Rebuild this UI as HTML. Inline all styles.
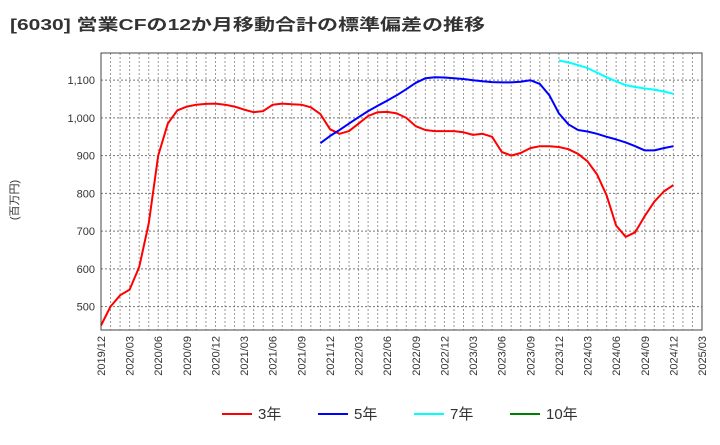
<!DOCTYPE html>
<html><head><meta charset="utf-8"><style>
body{margin:0;background:#fff;font-family:"Liberation Sans","Noto Sans CJK JP",sans-serif}
</style></head><body>
<svg width="720" height="440" xmlns="http://www.w3.org/2000/svg" font-family="Liberation Sans, Noto Sans CJK JP, sans-serif">
<text x="10" y="30" font-size="16" font-weight="bold" fill="#333" textLength="475" lengthAdjust="spacingAndGlyphs">[6030]  営業CFの12か月移動合計の標準偏差の推移</text>
<text transform="translate(18,200) rotate(-90)" text-anchor="middle" font-size="11" fill="#333">(百万円)</text>
<g id="grid"></g><g id="axes"></g><g id="series"></g>
<rect x="101" y="53" width="601" height="277" fill="none" stroke="#444" stroke-width="1"/>
<g id="legend"></g>
</svg>
<script>
const yTicks=[500,600,700,800,900,1000,1100];
const xLabels=["2019/12","2020/03","2020/06","2020/09","2020/12","2021/03","2021/06","2021/09","2021/12","2022/03","2022/06","2022/09","2022/12","2023/03","2023/06","2023/09","2023/12","2024/03","2024/06","2024/09","2024/12","2025/03"];
const s3=[450,500,530,545,605,720,900,985,1020,1030,1035,1037,1038,1035,1030,1022,1015,1018,1035,1038,1036,1035,1028,1010,970,958,965,985,1005,1015,1016,1012,1000,978,968,965,965,965,962,955,958,950,910,900,907,920,925,925,923,917,905,885,850,795,715,685,697,740,778,805,822];
const s5=[933,952,968,985,1002,1018,1032,1046,1060,1076,1093,1105,1108,1107,1105,1103,1100,1097,1095,1094,1094,1096,1100,1090,1060,1012,983,968,964,958,950,943,935,925,914,914,920,925];
const s7=[1152,1147,1140,1132,1120,1108,1097,1087,1082,1078,1075,1070,1064];
const s5Start=23, s7Start=48;
const X0=101,X1=702,Y0=53,Y1=330,VMIN=438,VMAX=1172,NM=63;
const xs=i=>X0+(X1-X0)*i/NM;
const ys=v=>Y1-(v-VMIN)/(VMAX-VMIN)*(Y1-Y0);
const NS="http://www.w3.org/2000/svg";
function mk(t,a,p){const e=document.createElementNS(NS,t);for(const k in a)e.setAttribute(k,a[k]);p.appendChild(e);return e;}
const grid=document.getElementById('grid'),axes=document.getElementById('axes'),ser=document.getElementById('series'),leg=document.getElementById('legend');
for(let i=1;i<NM;i++){const l=mk('line',{x1:xs(i),x2:xs(i),y1:Y0,y2:Y1,stroke:'#999','stroke-dasharray':'2,2','stroke-width':1},grid);

}
yTicks.forEach(v=>{const l=mk('line',{x1:X0,x2:X1,y1:ys(v),y2:ys(v),stroke:'#777','stroke-dasharray':'2,2','stroke-width':1},grid);


const t=mk('text',{x:X0-6,y:ys(v)+4,'text-anchor':'end','font-size':11,fill:'#333'},axes);t.textContent=v.toLocaleString('en-US');

});
xLabels.forEach((s,i)=>{const x=xs(i*3);const t=mk('text',{transform:`translate(${x+4},336) rotate(-90)`,'text-anchor':'end','font-size':11,fill:'#333'},axes);t.textContent=s;

});
function line(arr,start,color,name){const d=arr.map((v,i)=>(i?'L':'M')+xs(start+i).toFixed(1)+','+ys(v).toFixed(1)).join('');
const p=mk('path',{d:d,fill:'none',stroke:color,'stroke-width':2,'stroke-linejoin':'round'},ser);

}
line(s3,0,'#ff0000','series-3y');line(s5,s5Start,'#0000ff','series-5y');line(s7,s7Start,'#00ffff','series-7y');
[["3年","#ff0000",222],["5年","#0000ff",318],["7年","#00ffff",414],["10年","#008000",510]].forEach(([n,c,x])=>{
const g=mk('g',{},leg);


mk('line',{x1:x,x2:x+30,y1:414,y2:414,stroke:c,'stroke-width':2},g);
const t=mk('text',{x:x+36,y:419,'font-size':15,fill:'#333'},g);t.textContent=n;});
</script>
</body></html>
